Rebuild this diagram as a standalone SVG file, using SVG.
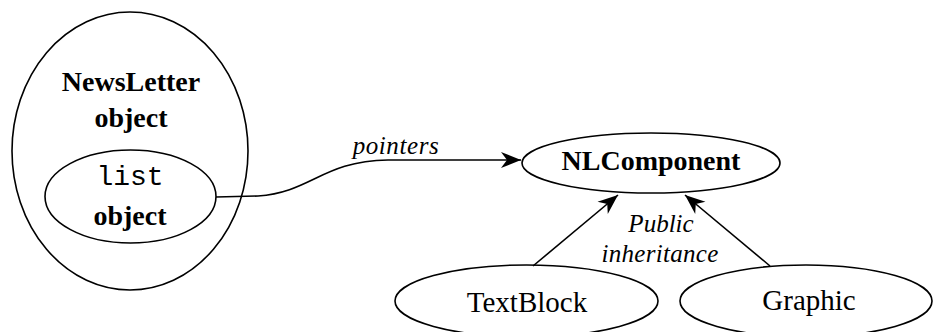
<svg xmlns="http://www.w3.org/2000/svg" width="933" height="332" viewBox="0 0 933 332">
  <style>
    .shape { fill: none; stroke: #000; stroke-width: 1.6; }
    .edge { fill: none; stroke: #000; stroke-width: 1.6; }
    .lbl { font-family: "Liberation Serif", "Times New Roman", serif; font-size: 29px; fill: #000; text-anchor: middle; }
    .bold { font-weight: bold; font-size: 28px; }
    .mono { font-family: "Liberation Mono", "Courier New", monospace; font-size: 28px; }
    .note { font-family: "Liberation Serif", "Times New Roman", serif; font-style: italic; font-size: 25px; fill: #000; text-anchor: middle; }
  </style>
  <defs>
    <marker id="head" markerUnits="userSpaceOnUse" markerWidth="24" markerHeight="20" viewBox="-22 -10 24 20" refX="0" refY="0" orient="auto">
      <path d="M0,0 L-20,-8 L-14,0 L-20,8 Z" fill="#000"/>
    </marker>
  </defs>
  <rect width="933" height="332" fill="#fff"/>

  <g id="newsletter">
    <ellipse class="shape" cx="130" cy="151" rx="118" ry="139"/>
    <text class="lbl bold" x="131" y="91">NewsLetter</text>
    <text class="lbl bold" x="131" y="127">object</text>
  </g>

  <g id="list">
    <ellipse class="shape" cx="130.5" cy="196.5" rx="85.5" ry="46.5"/>
    <text class="lbl mono" x="130" y="185">list</text>
    <text class="lbl bold" x="130" y="225">object</text>
  </g>

  <g id="nlcomponent">
    <ellipse class="shape" cx="651" cy="163" rx="129" ry="30"/>
    <text class="lbl bold" x="651" y="170">NLComponent</text>
  </g>

  <g id="textblock">
    <ellipse class="shape" cx="526.5" cy="301" rx="131.5" ry="36"/>
    <text class="lbl" x="527" y="312">TextBlock</text>
  </g>

  <g id="graphic">
    <ellipse class="shape" cx="806" cy="301" rx="126" ry="36"/>
    <text class="lbl" x="809" y="310">Graphic</text>
  </g>

  <g id="connectors">
    <path class="edge" d="M216,197 L258,196 C312,192 322,161 388,160 L521,160" marker-end="url(#head)"/>
    <text class="note" x="396" y="154" letter-spacing="0.6">pointers</text>

    <path class="edge" d="M533,266 L618,195" marker-end="url(#head)"/>
    <path class="edge" d="M770,266 L685,195" marker-end="url(#head)"/>
    <text class="note" x="661" y="232">Public</text>
    <text class="note" x="660" y="262" letter-spacing="0.3">inheritance</text>
  </g>
</svg>
